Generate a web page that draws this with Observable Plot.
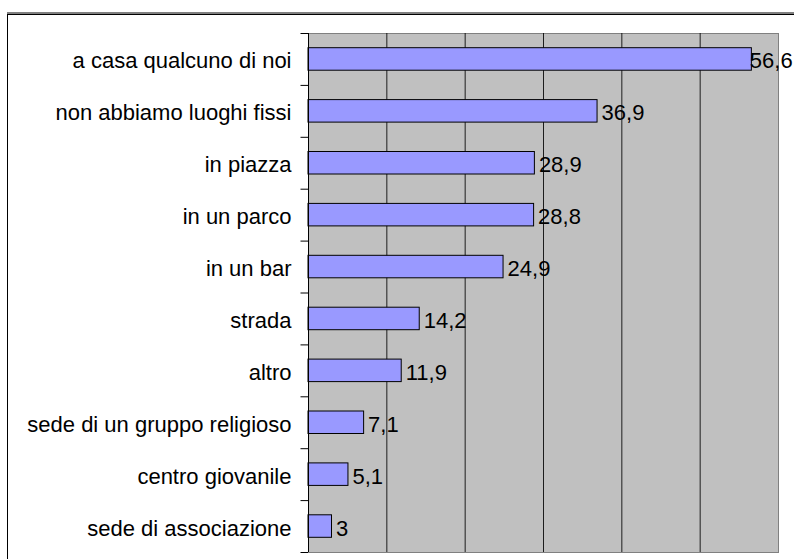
<!DOCTYPE html>
<html><head><meta charset="utf-8">
<script src="https://cdn.jsdelivr.net/npm/d3@7"></script>
<script src="https://cdn.jsdelivr.net/npm/@observablehq/plot@0.6"></script>
<style>
html,body{margin:0;padding:0;background:#fff;width:794px;height:559px;overflow:hidden;}
#wrap{position:relative;width:794px;height:559px;overflow:hidden;}
#frame{position:absolute;left:7px;top:12px;width:900px;height:700px;border-top:2px solid #808080;}
#frame2{position:absolute;left:7px;top:14px;width:900px;height:700px;border-top:1px solid #000;border-left:1px solid #000;}
#chart{position:absolute;left:0;top:0;}
</style></head><body>
<div id="wrap"><div id="frame"></div><div id="frame2"></div><div id="chart"></div></div>
<script>
const categories = [
  "a casa qualcuno di noi",
  "non abbiamo luoghi fissi",
  "in piazza",
  "in un parco",
  "in un bar",
  "strada",
  "altro",
  "sede di un gruppo religioso",
  "centro giovanile",
  "sede di associazione"
];
const values = [56.6, 36.9, 28.9, 28.8, 24.9, 14.2, 11.9, 7.1, 5.1, 3];
const gridTicks = [10, 20, 30, 40, 50];
const xDomain = [0, 60];

const data = categories.map((c, i) => ({category: c, value: values[i]}));
const maxValue = d3.max(values);
const fmt = v => String(v).replace(".", ",");

const W = 794, H = 559, mT = 33, mB = 7, mL = 308, mR = 16;
const step = (H - mT - mB) / categories.length;

const chart = Plot.plot({
  width: W, height: H,
  marginLeft: mL, marginRight: mR, marginTop: mT, marginBottom: mB,
  style: {fontFamily: "'Liberation Sans', Arial, sans-serif", fontSize: "22px", color: "#000", background: "transparent", overflow: "visible"},
  x: {domain: xDomain, axis: null},
  y: {domain: categories, padding: 0, round: false, label: null},
  marks: [
    Plot.frame({fill: "#c0c0c0", stroke: "#808080"}),
    Plot.ruleX(gridTicks, {stroke: "#000", strokeOpacity: 0.85}),
    Plot.barX(data, {x: "value", y: "category", fill: "#9999ff", stroke: "#000", insetTop: 14.7, insetBottom: 14.7}),
    Plot.ruleX([0], {stroke: "#000"}),
    // boundary ticks between categories on the left axis
    Plot.ruleY(categories, {y: d => d, x1: 0, x2: 0, insetLeft: -7.5, dy: -step / 2, stroke: "#000"}),
    Plot.ruleY(categories.slice(-1), {y: d => d, x1: 0, x2: 0, insetLeft: -7.5, dy: step / 2, stroke: "#000"}),
    Plot.axisY({tickSize: 0, tickPadding: 17, fontSize: 22, dy: 2, fill: "#000", label: null}),
    Plot.text(data.filter(d => d.value < maxValue), {x: "value", y: "category", text: d => fmt(d.value), textAnchor: "start", dx: 4, dy: 2, fontSize: 22, fill: "#000"}),
    Plot.text(data.filter(d => d.value === maxValue), {x: "value", y: "category", text: d => fmt(d.value), textAnchor: "start", dx: -2, dy: 2, fontSize: 22, fill: "#000"})
  ]
});
document.getElementById("chart").appendChild(chart);
</script>
</body></html>
